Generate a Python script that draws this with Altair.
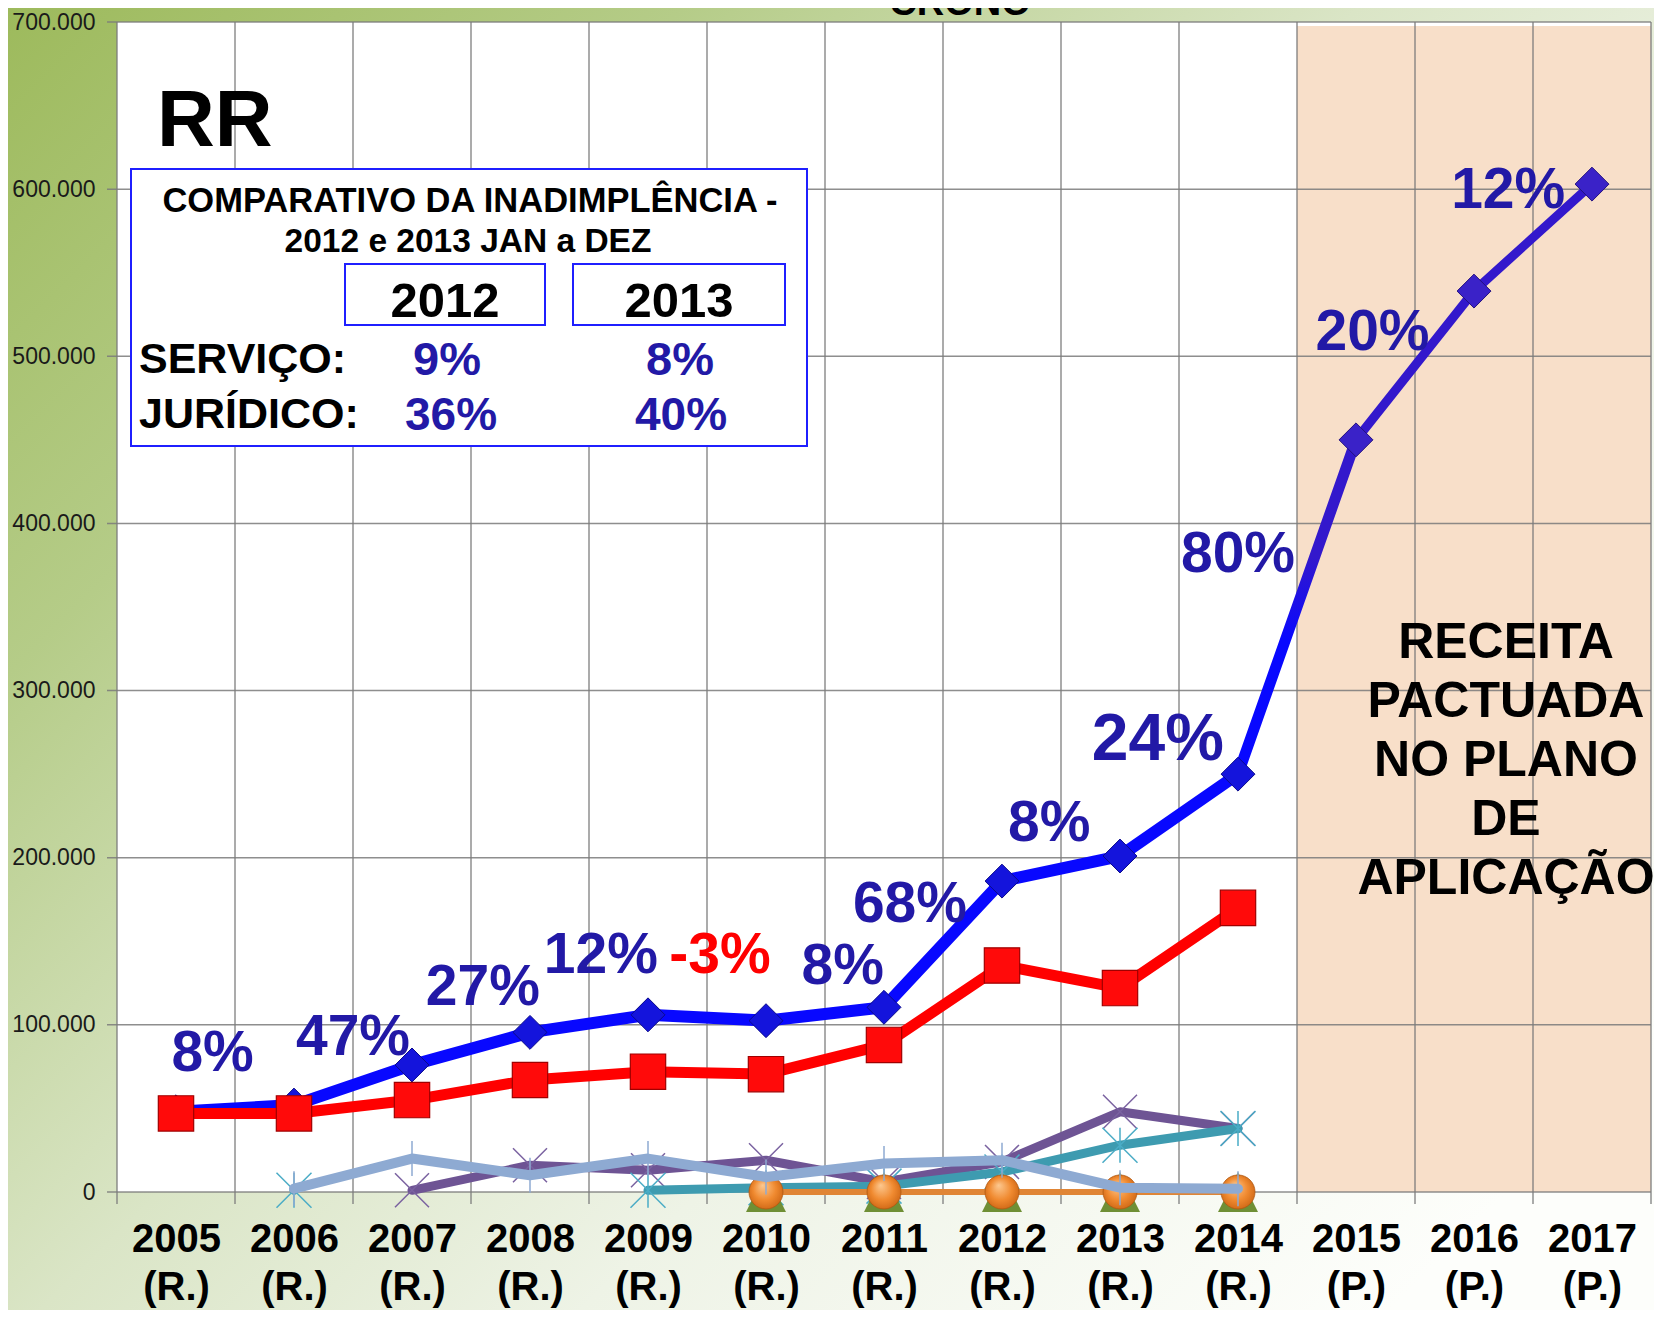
import json
import altair as alt
import pandas as pd

# ---------------- data ----------------
years = [2005, 2006, 2007, 2008, 2009, 2010, 2011, 2012, 2013, 2014, 2015, 2016, 2017]
year_labels = ["2005 (R.)", "2006 (R.)", "2007 (R.)", "2008 (R.)", "2009 (R.)", "2010 (R.)",
               "2011 (R.)", "2012 (R.)", "2013 (R.)", "2014 (R.)", "2015 (P.)", "2016 (P.)", "2017 (P.)"]
y_ticks = [0, 100000, 200000, 300000, 400000, 500000, 600000, 700000]
boundaries = [2004.5 + i for i in range(14)]

real_years = [2005, 2006, 2007, 2008, 2009, 2010, 2011, 2012, 2013, 2014]
receita_real = [48000, 52000, 76000, 95500, 106000, 102500, 110500, 186000, 201000, 250000]
link_years = [2014, 2015]
receita_link = [250000, 450000]
proj_years = [2015, 2016, 2017]
receita_proj = [450000, 539000, 603000]
servico = [47000, 47000, 55000, 67000, 72000, 70500, 88000, 135500, 122000, 170000]

lightblue_years = [2006, 2007, 2008, 2009, 2010, 2011, 2012, 2013, 2014]
lightblue = [2000, 20000, 10000, 20000, 9000, 17000, 19000, 2600, 2000]
purple_years = [2007, 2008, 2009, 2010, 2011, 2012, 2013, 2014]
purple = [1000, 16000, 13000, 19000, 6000, 18000, 48000, 38000]
teal_years = [2006, 2009, 2010, 2011, 2012, 2013, 2014]
teal = [1000, 1000, 2500, 3500, 12000, 28000, 38000]
orange_years = [2010, 2011, 2012, 2013, 2014]
orange = [0, 0, 0, 0, 0]
green_years = [2010, 2011, 2012, 2013, 2014]
green = [0, 0, 0, 0, 0]

growth = [8, 47, 27, 12, -3, 8, 68, 8, 24, 80, 20, 12]
growth_x = [2005.31, 2006.5, 2007.6, 2008.6, 2009.61, 2010.65, 2011.22, 2012.4, 2013.32, 2014.0, 2015.14, 2016.29]
growth_y = [72600, 82100, 112000, 131000, 131000, 124600, 161400, 210000, 258500, 370700, 503900, 588900]

title_top = "CRONO"
state_label = "RR"
box_title = ["COMPARATIVO DA INADIMPLÊNCIA -", "2012 e 2013 JAN a DEZ"]
box_years = ["2012", "2013"]
box_rows = ["SERVIÇO:", "JURÍDICO:"]
box_servico = ["9%", "8%"]
box_juridico = ["36%", "40%"]
plan_text = ["RECEITA", "PACTUADA", "NO PLANO", "DE", "APLICAÇÃO"]

# ---------------- layout ----------------
W, H = 1534, 1170
FONT = "Liberation Sans"
BLUE_TXT = "#2219a6"


def seg_frame(xs, vs):
    seg, out = 0, []
    for i, (x, v) in enumerate(zip(xs, vs)):
        if i > 0 and x - xs[i - 1] > 1:
            seg += 1
        out.append({"year": x, "value": v, "seg": seg})
    return pd.DataFrame(out)


xscale = alt.Scale(domain=[2004.5, 2017.5], nice=False, zero=False)
yscale = alt.Scale(domain=[0, 700000], nice=False, zero=False)
label_expr = "split(" + json.dumps(year_labels) + "[round(datum.value) - 2005], ' ')"
xaxis = alt.Axis(values=years, labelExpr=label_expr, grid=False, ticks=False, tickSize=0,
                 domain=False, labelFont=FONT, labelFontSize=40, labelFontWeight="bold",
                 labelColor="black", labelPadding=27, labelLineHeight=48, labelBaseline="top",
                 labelOverlap=False, labelFlush=False, zindex=2, title=None)
yaxis = alt.Axis(values=y_ticks, labelExpr="replace(format(datum.value, ',d'), ',', '.')",
                 grid=False, ticks=False, tickSize=0, domain=False, labelFont=FONT,
                 labelFontSize=23, labelColor="#1a1a1a", labelPadding=22,
                 labelOverlap=False, labelFlush=False, zindex=2, title=None)


def X(f):
    return alt.X(f, type="quantitative", scale=xscale, axis=xaxis, title=None)


def Y(f):
    return alt.Y(f, type="quantitative", scale=yscale, axis=yaxis, title=None)


one = pd.DataFrame({"k": [0]})

bg = alt.Chart(one).mark_rect(
    fill=alt.LinearGradient(gradient="linear", x1=0, y1=0, x2=1, y2=0.8, stops=[
        alt.GradientStop(color="#9dba5c", offset=0),
        alt.GradientStop(color="#b5cc88", offset=0.25),
        alt.GradientStop(color="#dae5c6", offset=0.5),
        alt.GradientStop(color="#eef3e6", offset=0.7),
        alt.GradientStop(color="#fdfefb", offset=1)])
).encode(x=alt.value(-109), x2=alt.value(W + 3), y=alt.value(-14), y2=alt.value(H + 118))

plot_bg = alt.Chart(one).mark_rect(fill="white").encode(
    x=alt.value(0), x2=alt.value(W), y=alt.value(0), y2=alt.value(H))

peach = alt.Chart(pd.DataFrame({"a": [2014.5], "b": [2017.5]})).mark_rect(fill="#f8dfc9").encode(
    x=X("a"), x2="b", y=alt.value(4), y2=alt.value(H))

hgrid = alt.Chart(pd.DataFrame({"t": y_ticks})).mark_rule(color="#7a7a7a", strokeWidth=1.5, opacity=0.85).encode(
    y=Y("t"), x=alt.value(-10), x2=alt.value(W))
vgrid = alt.Chart(pd.DataFrame({"b": boundaries})).mark_rule(color="#7a7a7a", strokeWidth=1.5, opacity=0.85).encode(
    x=X("b"), y=alt.value(0), y2=alt.value(H + 12))


def txt(s, x, y, size, color="black", align="center", font=FONT, weight="bold", line_height=None):
    kw = dict(font=font, fontSize=size, fontWeight=weight, color=color, align=align, baseline="alphabetic")
    if line_height:
        kw["lineHeight"] = line_height
    return alt.Chart(one).mark_text(**kw).encode(x=alt.value(x), y=alt.value(y), text=alt.value(s))


def box(x1, y1, x2, y2):
    return alt.Chart(one).mark_rect(fill="white", stroke="#1f1fff", strokeWidth=2).encode(
        x=alt.value(x1), x2=alt.value(x2), y=alt.value(y1), y2=alt.value(y2))


annots = [
    txt(state_label, 40, 124, 80, align="left"),
    box(14, 147, 690, 424),
    box(228, 242, 428, 303),
    box(456, 242, 668, 303),
    txt(box_title[0], 353, 190, 34.5),
    txt(box_title[1], 351, 230, 33.5),
    txt(box_years[0], 328, 295, 49),
    txt(box_years[1], 562, 295, 49),
    txt(box_rows[0], 22, 351, 43, align="left"),
    txt(box_rows[1], 22, 406, 43, align="left"),
    txt(box_servico[0], 330, 353, 47, color=BLUE_TXT),
    txt(box_servico[1], 563, 353, 47, color=BLUE_TXT),
    txt(box_juridico[0], 334, 408, 46, color=BLUE_TXT),
    txt(box_juridico[1], 564, 408, 46, color=BLUE_TXT),
    txt(plan_text, 1389, 636, 50, line_height=59),
]

ASTER = "M-1,-1L1,1M-1,1L1,-1M0,-1L0,1"
XMARK = "M-1,-1L1,1M-1,1L1,-1"
VBAR = "M0,-1L0,1"
TRI = "M0,-1L1,1L-1,1Z"

df_real = seg_frame(real_years, receita_real)
df_link = seg_frame(link_years, receita_link)
df_proj = seg_frame(proj_years, receita_proj)
df_serv = seg_frame(real_years, servico)
df_lb = seg_frame(lightblue_years, lightblue)
df_pu = seg_frame(purple_years, purple)
df_te = seg_frame(teal_years, teal)
df_or = seg_frame(orange_years, orange)
df_gr = seg_frame(green_years, green)

line_kw = dict(strokeCap="round", strokeJoin="round")

blue_line = alt.Chart(df_real).mark_line(color="#0808ff", strokeWidth=12, **line_kw).encode(x=X("year"), y=Y("value"))
link_line = alt.Chart(df_link).mark_line(
    stroke=alt.LinearGradient(gradient="linear", x1=0, y1=1, x2=0, y2=0, stops=[
        alt.GradientStop(color="#0808ff", offset=0),
        alt.GradientStop(color="#0808ff", offset=0.4),
        alt.GradientStop(color="#3318cc", offset=0.65),
        alt.GradientStop(color="#3318cc", offset=1)]),
    strokeWidth=11, **line_kw).encode(x=X("year"), y=Y("value"))
proj_line = alt.Chart(df_proj).mark_line(color="#3318cc", strokeWidth=9, **line_kw).encode(x=X("year"), y=Y("value"))
blue_pts = alt.Chart(df_real).mark_point(shape="diamond", filled=True, fill="#1414dc", stroke="#0a0a8c",
                                         strokeWidth=1, size=1150, opacity=1).encode(x=X("year"), y=Y("value"))
proj_pts = alt.Chart(df_proj).mark_point(shape="diamond", filled=True, fill="#3a22c8", stroke="#231080",
                                         strokeWidth=1, size=1150, opacity=1).encode(x=X("year"), y=Y("value"))

red_line = alt.Chart(df_serv).mark_line(color="#ff0000", strokeWidth=11, **line_kw).encode(x=X("year"), y=Y("value"))
red_pts = alt.Chart(df_serv).mark_point(shape="square", filled=True, fill="#ff0a0a", stroke="#a00000",
                                        strokeWidth=1.2, size=1250, opacity=1).encode(x=X("year"), y=Y("value"))

pu_line = alt.Chart(df_pu).mark_line(color="#6e5494", strokeWidth=9, **line_kw).encode(x=X("year"), y=Y("value"), detail="seg:N")
pu_pts = alt.Chart(df_pu).mark_point(shape=XMARK, filled=False, color="#7a62a0", strokeWidth=1.5, size=1156, opacity=1).encode(x=X("year"), y=Y("value"))
te_line = alt.Chart(df_te).mark_line(color="#3e9bb0", strokeWidth=9, **line_kw).encode(x=X("year"), y=Y("value"), detail="seg:N")
te_pts = alt.Chart(df_te).mark_point(shape=ASTER, filled=False, color="#4aacc6", strokeWidth=1.5, size=1225, opacity=1).encode(x=X("year"), y=Y("value"))
gr_pts = alt.Chart(df_gr).mark_point(shape=TRI, filled=True, fill="#6f8f35", size=1600, opacity=1).encode(x=X("year"), y=Y("value"))
or_line = alt.Chart(df_or).mark_line(color="#e08535", strokeWidth=6, **line_kw).encode(x=X("year"), y=Y("value"))
or_pts = alt.Chart(df_or).mark_point(
    shape="circle", filled=True,
    fill=alt.RadialGradient(gradient="radial", x1=0.4, y1=0.3, r1=0, x2=0.5, y2=0.5, r2=0.6, stops=[
        alt.GradientStop(color="#fcc890", offset=0),
        alt.GradientStop(color="#f08a30", offset=0.55),
        alt.GradientStop(color="#c86010", offset=1)]),
    stroke="#b05810", strokeWidth=0.8, size=1156, opacity=1).encode(x=X("year"), y=Y("value"))
lb_line = alt.Chart(df_lb).mark_line(color="#8eaad2", strokeWidth=10, **line_kw).encode(x=X("year"), y=Y("value"), detail="seg:N")
lb_pts = alt.Chart(df_lb).mark_point(shape=VBAR, filled=False, color="#8eaad2", strokeWidth=1.5, size=1225, opacity=1).encode(x=X("year"), y=Y("value"))

df_growth = pd.DataFrame({"g": growth, "gx": growth_x, "gy": growth_y})
df_growth["label"] = [f"{g}%" for g in growth]
growth_txt = alt.Chart(df_growth).mark_text(font=FONT, fontWeight="bold", baseline="alphabetic", align="center").encode(
    x=X("gx"), y=Y("gy"), text="label:N",
    size=alt.condition("datum.label == '24%'", alt.value(66), alt.value(57)),
    color=alt.condition("datum.g < 0", alt.value("#ff0000"), alt.value(BLUE_TXT)))

crono = txt(title_top, 843, -7, 38)

chart = alt.layer(
    bg, plot_bg, peach, hgrid, vgrid, *annots,
    blue_line, link_line, proj_line, blue_pts, proj_pts,
    red_line, red_pts,
    pu_line, pu_pts, te_line, te_pts, gr_pts, or_line, or_pts, lb_line, lb_pts,
    growth_txt, crono,
).properties(
    width=W, height=H,
    padding={"left": 109, "top": 14, "right": 3, "bottom": 118},
    autosize=alt.AutoSizeParams(type="none"),
).configure_view(strokeWidth=0)

chart.save("out.html", embed_options={"renderer": "svg", "actions": False})
